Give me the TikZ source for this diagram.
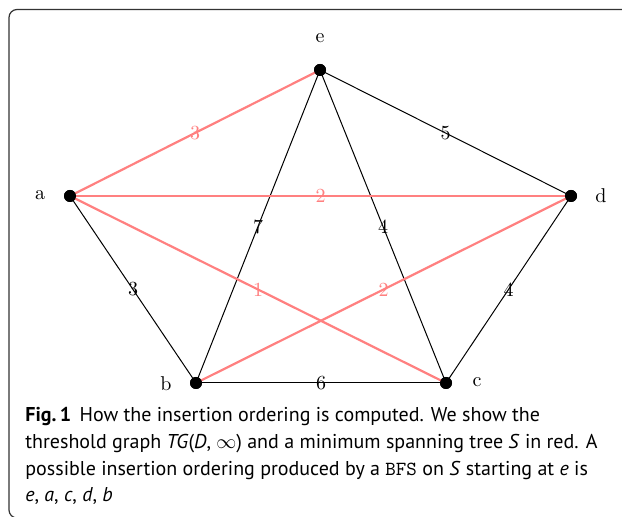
\documentclass[tikz,border=0pt]{standalone}
\usepackage{fontspec}
\newfontfamily\capfont{PT Sans}
\begin{document}
\begin{tikzpicture}[x=0.5pt,y=-0.5pt,
  dot/.style={circle,fill=black,inner sep=0pt,minimum size=6pt},
  blk/.style={draw=black,line width=0.5pt},
  redge/.style={draw=red!50,line width=1.1pt},
  vlab/.style={font=\fontsize{10}{12}\selectfont,inner sep=0pt},
  wlab/.style={font=\fontsize{10}{12}\selectfont,inner sep=0pt},
  rlab/.style={wlab,text=red!50},
  capline/.style={anchor=base west,inner sep=0pt,font=\capfont\fontsize{10}{13.5}\selectfont}]
\path[use as bounding box] (0,0) rectangle (622,517);
\begin{scope}
\clip (0,0) rectangle (622,517);
\draw[draw=black!80,line width=0.6pt,rounded corners=4pt] (9,9.5) rectangle (720,518);
\end{scope}
% vertices
\node[dot] (e) at (320,70) {};
\node[dot] (a) at (70,196) {};
\node[dot] (d) at (571,196) {};
\node[dot] (b) at (196,383) {};
\node[dot] (c) at (446,383) {};
\node[vlab] (le) at (320,38) {e};
\node[vlab] (la) at (40,195) {a};
\node[vlab] (ld) at (601,196) {d};
\node[vlab] (lb) at (166,384) {b};
\node[vlab] (lc) at (477,382) {c};
% black edges
\draw[blk] (e.center) -- node[wlab]{5} (d.center);
\draw[blk] (e.center) -- node[wlab]{7} (b.center);
\draw[blk] (e.center) -- node[wlab]{4} (c.center);
\draw[blk] (a.center) -- node[wlab]{3} (b.center);
\draw[blk] (d.center) -- node[wlab]{4} (c.center);
\draw[blk] (b.center) -- node[wlab]{6} (c.center);
% red edges (spanning tree)
\draw[redge] (a.center) -- node[rlab]{3} (e.center);
\draw[redge] (a.center) -- node[rlab]{2} (d.center);
\draw[redge] (a.center) -- node[rlab]{1} (c.center);
\draw[redge] (b.center) -- node[rlab]{2} (d.center);
\node[dot] at (e) {};
\node[dot] at (a) {};
\node[dot] at (d) {};
\node[dot] at (b) {};
\node[dot] at (c) {};
% caption
\node[capline] (cap1) at (25,422) {\textbf{Fig.\,1}\hspace{0.15em} How the insertion ordering is computed. We show the};
\node[capline] (cap2) at (25,448.5) {threshold graph \textit{TG}(\textit{D}, $\infty$) and a minimum spanning tree \textit{S} in red. A};
\node[capline] (cap3) at (25,475.5) {possible insertion ordering produced by a \texttt{BFS} on \textit{S} starting at \textit{e} is};
\node[capline] (cap4) at (25,502) {\textit{e}, \textit{a}, \textit{c}, \textit{d}, \textit{b}};
\end{tikzpicture}
\end{document}
